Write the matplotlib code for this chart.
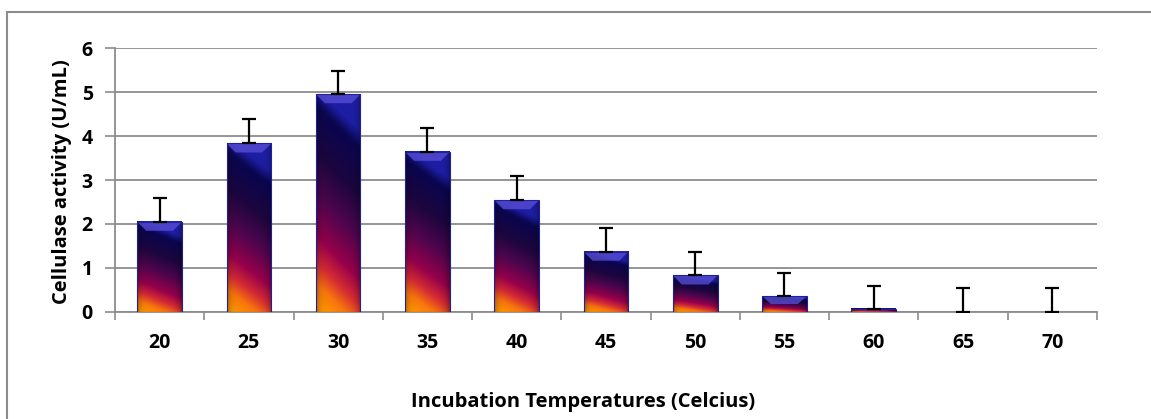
import numpy as np
import matplotlib
matplotlib.use('Agg')
from matplotlib import pyplot as plt
from matplotlib.patches import Polygon, Rectangle

temps = ['20', '25', '30', '35', '40', '45', '50', '55', '60', '65', '70']
activity = [2.05, 3.83, 4.95, 3.64, 2.54, 1.37, 0.83, 0.36, 0.07, 0.0, 0.0]
err_up = [0.53, 0.55, 0.52, 0.55, 0.54, 0.55, 0.53, 0.53, 0.52, 0.54, 0.54]

plt.rcParams['font.family'] = ['Open Sans', 'DejaVu Sans']

fig = plt.figure(figsize=(11.51, 4.19), dpi=100)
ax = fig.add_axes([0.0999, 0.2554, 0.8531, 0.63])

# outer chart border (right/bottom run off the picture)
fig.patches.append(Rectangle((7 / 1151, -0.05), 1.2, (419 - 12) / 419 + 0.05,
                             transform=fig.transFigure, fill=False,
                             edgecolor='#8c8c8c', linewidth=1.5))

x = np.arange(len(temps))
bars = ax.bar(x, activity, width=0.5, color='none', edgecolor='none', zorder=3)

# colour ramp: orange at the bottom-left, crimson, dark navy, blue at the top
stops = np.array([0.0, 0.1, 0.2, 0.32, 0.5, 0.7, 0.92, 1.0])
cols = np.array([[255, 150, 0], [248, 118, 12], [212, 42, 52], [150, 0, 75],
                 [80, 5, 78], [28, 6, 62], [10, 6, 80], [30, 30, 165]]) / 255.0

def ramp(h, w):
    t = np.linspace(1, 0, h)[:, None]
    u = np.linspace(0, 1, w)[None, :]
    s = np.clip(t + 0.2 * u - 0.03, 0, 1)
    img = np.zeros((h, w, 3))
    for c in range(3):
        img[..., c] = np.interp(s, stops, cols[:, c])
    # darken the side edges a little
    edge = 1 - 0.3 * (np.abs(u - 0.5) * 2) ** 6
    return img * edge[..., None]

px_y = 264 / 6.0       # pixels per unit
px_x = 982 / 11.0      # pixels per category
for b in bars:
    h = b.get_height()
    if h <= 0:
        continue
    x0, w = b.get_x(), b.get_width()
    ax.imshow(ramp(300, 60), extent=(x0, x0 + w, 0, h), aspect='auto',
              zorder=3, interpolation='bilinear', clip_path=b, clip_on=True)
    # light top bevel
    bh = min(9 / px_y, h * 0.5)
    bw = min(9 / px_x, w * 0.3)
    ax.add_patch(Polygon([(x0, h), (x0 + w, h), (x0 + w - bw, h - bh), (x0 + bw, h - bh)],
                         closed=True, facecolor='#5a50d8', edgecolor='none', alpha=0.75, zorder=4))
    ax.add_patch(Rectangle((x0, 0), w, h, fill=False, edgecolor='#20209a',
                           linewidth=0.8, zorder=4))

ax.errorbar(x, activity, yerr=[np.zeros(len(x)), err_up], fmt='none', ecolor='black',
            elinewidth=1.6, capsize=4.8, capthick=1.6, zorder=5)

ax.set_xlim(-0.5, len(temps) - 0.5)
ax.set_ylim(0, 6)
ax.set_yticks(range(7))
ax.set_xticks(x)
ax.set_xticklabels(temps)
ax.set_xticks(np.arange(-0.5, len(temps)), minor=True)
ax.tick_params(axis='x', which='major', length=0, pad=15, labelsize=14)
ax.tick_params(axis='x', which='minor', length=6, width=1.2, color='#8c8c8c')
ax.tick_params(axis='y', length=7, width=1.2, color='#8c8c8c', pad=9, labelsize=14)
for lab in ax.get_xticklabels() + ax.get_yticklabels():
    lab.set_fontweight('bold')

ax.grid(axis='y', color='#8c8c8c', linewidth=1.3, zorder=0)
ax.set_axisbelow(True)
for side in ['top', 'right']:
    ax.spines[side].set_visible(False)
ax.spines['left'].set_color('#8c8c8c')
ax.spines['bottom'].set_color('#8c8c8c')
ax.spines['left'].set_linewidth(1.3)
ax.spines['bottom'].set_linewidth(1.3)

fig.text(62 / 1151, (419 - 182) / 419, 'Cellulase activity (U/mL)', rotation=90,
         ha='center', va='center', fontsize=14.5, fontweight='bold')
fig.text(583 / 1151, (419 - 402) / 419, 'Incubation Temperatures (Celcius)',
         ha='center', va='center', fontsize=14.5, fontweight='bold')

fig.savefig('out.png', dpi=100)
